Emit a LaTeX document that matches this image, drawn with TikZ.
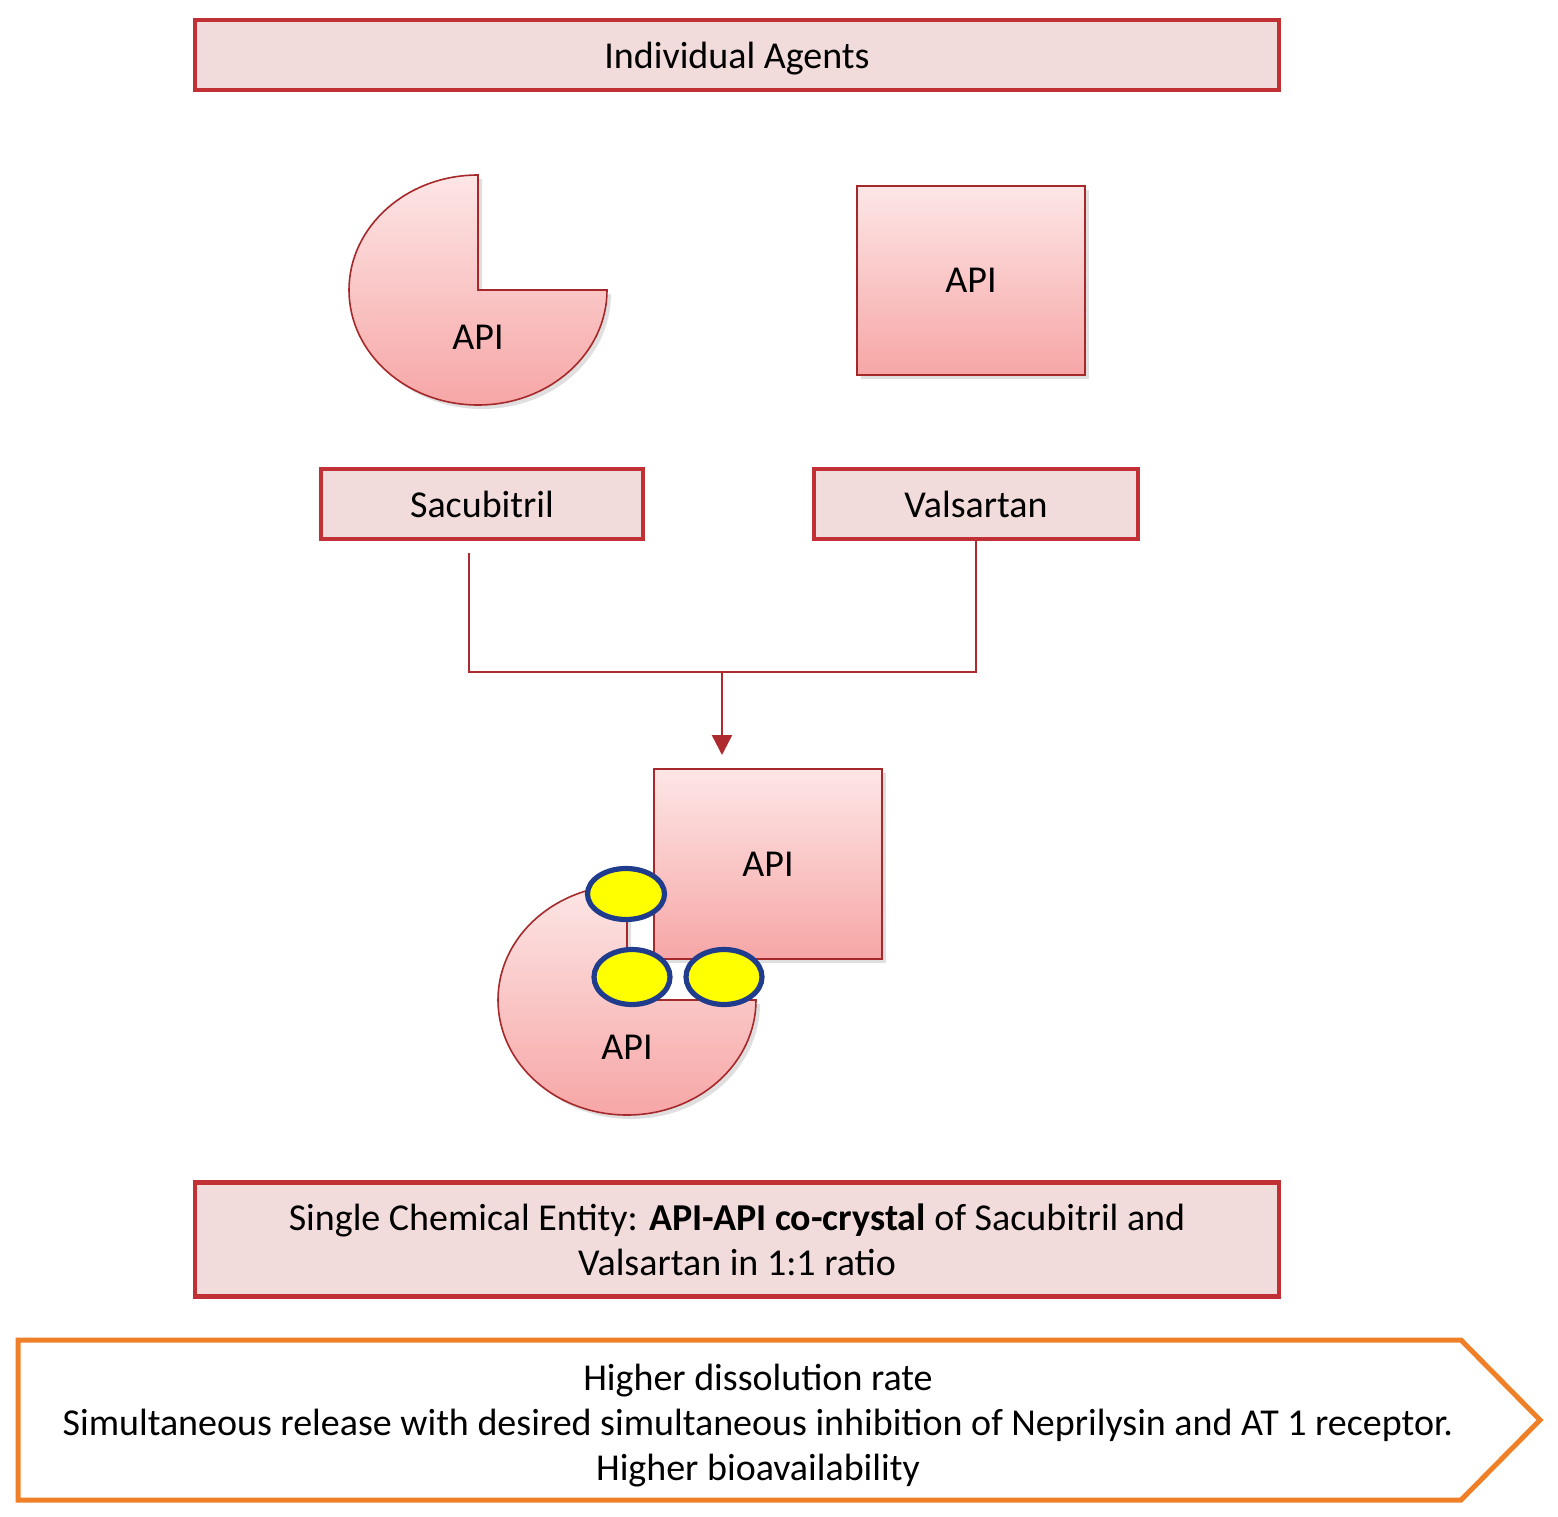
\documentclass[tikz,border=0pt]{standalone}
\usepackage{fontspec}
\setmainfont{Carlito}
\usepackage{tikz}
\usetikzlibrary{shapes.geometric, arrows.meta, shadows}

\definecolor{boxred}{RGB}{192,48,52}
\definecolor{boxfill}{RGB}{242,220,219}
\definecolor{shapeline}{RGB}{165,40,42}
\definecolor{shapetop}{RGB}{253,230,230}
\definecolor{shapebottom}{RGB}{247,166,166}
\definecolor{bondblue}{RGB}{32,60,140}
\definecolor{bondyellow}{RGB}{255,255,0}
\definecolor{benefitorange}{RGB}{240,128,40}

\tikzset{
	labelbox/.style={draw=boxred, fill=boxfill, line width=2.4pt, rectangle,
		inner sep=0pt, minimum height=35pt, align=center},
	apishape/.style={draw=shapeline, line width=0.8pt, top color=shapetop,
		bottom color=shapebottom,
		drop shadow={opacity=0.25, shadow xshift=2pt, shadow yshift=-2pt}},
	bond/.style={draw=bondblue, fill=bondyellow, line width=2.6pt, ellipse,
		inner sep=0pt},
	link/.style={draw=boxred!90!black, line width=1.2pt}
}

\begin{document}
\begin{tikzpicture}[x=0.5pt, y=-0.5pt, font=\fontsize{19}{22.5}\selectfont]
	\def \rx {64.5pt}
	\def \ry {57.5pt}

	\useasboundingbox (0,0) rectangle (1558,1516);

	% header
	\node[labelbox, minimum width=542pt, text depth=0pt] (agents) at (737,55)
		{Individual Agents};

	% the two single drugs
	\path[apishape] (478,290) -- (478,175)
		arc[start angle=90, end angle=360, x radius=\rx, y radius=\ry] -- cycle;
	\node (sacapi) at (478,337) {API};
	\node[apishape, rectangle, minimum width=114pt, minimum height=94.5pt]
		(valshape) at (971,280.5) {API};

	\node[labelbox, minimum width=161pt] (sac) at (482,504) {Sacubitril};
	\node[labelbox, minimum width=162pt] (val) at (976,504) {Valsartan};

	% joining lines
	\coordinate (sacfoot) at (469,553);
	\coordinate (join) at (722,672);
	\coordinate (cotop) at (722,755);
	\draw[link] (sacfoot) |- (join);
	\draw[link] (val.south) |- (join);
	\draw[link, -{Triangle[length=10pt, width=10pt]}] (join) -- (cotop);

	% co-crystal
	\node[apishape, rectangle, minimum width=114pt, minimum height=95pt]
		(coval) at (768,864) {API};
	\path[apishape] (627,1000) -- (627,885)
		arc[start angle=90, end angle=360, x radius=\rx, y radius=\ry] -- cycle;
	\node (cosac) at (627,1047) {API};
	\node[bond, minimum width=38.5pt, minimum height=25.5pt] (bondA) at (626,894) {};
	\node[bond, minimum width=38pt, minimum height=27.5pt] (bondB) at (632,977) {};
	\node[bond, minimum width=38pt, minimum height=27.5pt] (bondC) at (724,977) {};

	\node[labelbox, minimum width=542pt, minimum height=57pt] (entity) at (737,1239.5)
		{Single Chemical Entity: \textbf{API-API co-crystal} of Sacubitril and\\
		Valsartan in 1:1 ratio};

	% benefits
	\draw[benefitorange, line width=2.5pt, fill=white, line join=miter]
		(18,1340) -- (1461,1340) -- (1540,1420) -- (1461,1500) -- (18,1500) -- cycle;
	\node[align=center] (benefit) at (758,1426)
		{Higher dissolution rate\\
		Simultaneous release with desired simultaneous inhibition of Neprilysin and AT 1 receptor.\\
		Higher bioavailability};
\end{tikzpicture}
\end{document}
